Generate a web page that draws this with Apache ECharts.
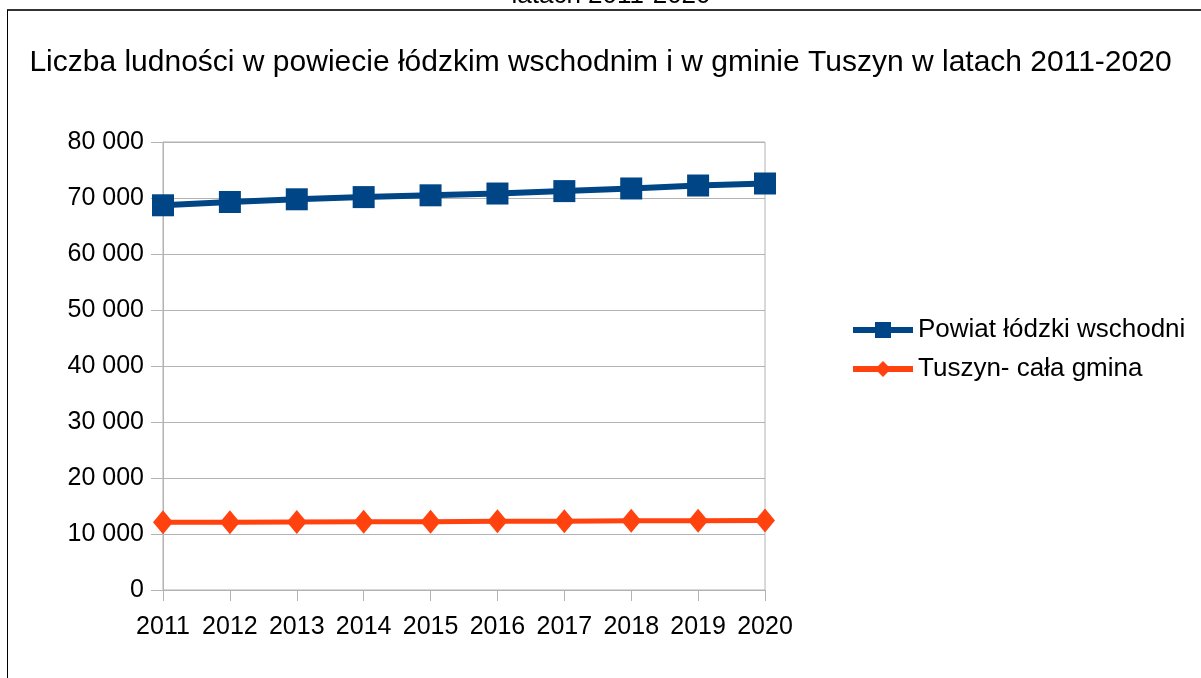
<!DOCTYPE html>
<html>
<head>
<meta charset="utf-8">
<script src="https://cdn.jsdelivr.net/npm/echarts@6/dist/echarts.min.js"></script>
<style>
html,body{margin:0;padding:0;background:#fff;}
#chart{width:1201px;height:678px;}
</style>
</head>
<body>
<div id="chart"></div>
<script>
const years = ['2011','2012','2013','2014','2015','2016','2017','2018','2019','2020'];
const powiat = [68700, 69290, 69770, 70160, 70480, 70800, 71230, 71700, 72230, 72590];
const tuszyn = [12100, 12100, 12160, 12170, 12180, 12280, 12290, 12350, 12360, 12420];
const seriesNames = ['Powiat łódzki wschodni', 'Tuszyn- cała gmina'];
const titleText = 'Liczba ludności w powiecie łódzkim wschodnim i w gminie Tuszyn w latach 2011-2020';
const cutText = 'latach 2011-2020';

const FONT = '"Liberation Sans", Arial, sans-serif';
const chart = echarts.init(document.getElementById('chart'), null, {renderer: 'canvas'});
const fmt = v => String(v).replace(/\B(?=(\d{3})+(?!\d))/g, ' ');

chart.setOption({
  animation: false,
  backgroundColor: '#ffffff',
  textStyle: {fontFamily: FONT},
  title: {
    text: titleText,
    left: 'center',
    top: 43,
    textStyle: {fontFamily: FONT, fontSize: 30, fontWeight: 'normal', color: '#000'}
  },
  graphic: [
    {type: 'text', x: 611, y: -4, z: 1, style: {text: cutText, font: '26px ' + FONT, fill: '#000', textAlign: 'center', textVerticalAlign: 'middle'}},
    {type: 'line', z: 2, shape: {x1: 7, y1: 10, x2: 1201, y2: 10}, style: {stroke: '#333', lineWidth: 2}},
    {type: 'line', z: 2, shape: {x1: 7.5, y1: 10, x2: 7.5, y2: 678}, style: {stroke: '#000', lineWidth: 1}}
  ],
  legend: {
    orient: 'vertical',
    left: 850,
    top: 317,
    padding: 0,
    itemWidth: 60,
    itemHeight: 20,
    itemGap: 13,
    lineStyle: {width: 6},
    textStyle: {fontFamily: FONT, fontSize: 26, color: '#000'},
    data: seriesNames
  },
  grid: {left: 163, right: 436, top: 142, bottom: 88, show: true, borderColor: '#b3b3b3', borderWidth: 1, containLabel: false},
  xAxis: {
    type: 'category',
    data: years,
    boundaryGap: false,
    axisLine: {lineStyle: {color: '#b3b3b3', width: 1}},
    axisTick: {show: true, length: 11, inside: false, interval: 0, lineStyle: {color: '#b3b3b3'}},
    axisLabel: {fontFamily: FONT, fontSize: 25, color: '#000', margin: 25, interval: 0, hideOverlap: false},
    splitLine: {show: false}
  },
  yAxis: {
    type: 'value',
    min: 0, max: 80000, interval: 10000,
    axisLine: {show: true, lineStyle: {color: '#b3b3b3', width: 1}},
    axisTick: {show: true, length: 12, lineStyle: {color: '#b3b3b3'}},
    axisLabel: {fontFamily: FONT, fontSize: 25, color: '#000', margin: 19, formatter: fmt},
    splitLine: {show: true, lineStyle: {color: '#b3b3b3', width: 1}}
  },
  series: [
    {
      name: seriesNames[0], type: 'line', data: powiat,
      symbol: 'rect', symbolSize: 22,
      lineStyle: {color: '#004586', width: 6},
      itemStyle: {color: '#004586'},
      z: 3
    },
    {
      name: seriesNames[1], type: 'line', data: tuszyn,
      symbol: 'diamond', symbolSize: [20, 24],
      lineStyle: {color: '#ff420e', width: 5},
      itemStyle: {color: '#ff420e'},
      z: 3
    }
  ]
});
</script>
</body>
</html>
